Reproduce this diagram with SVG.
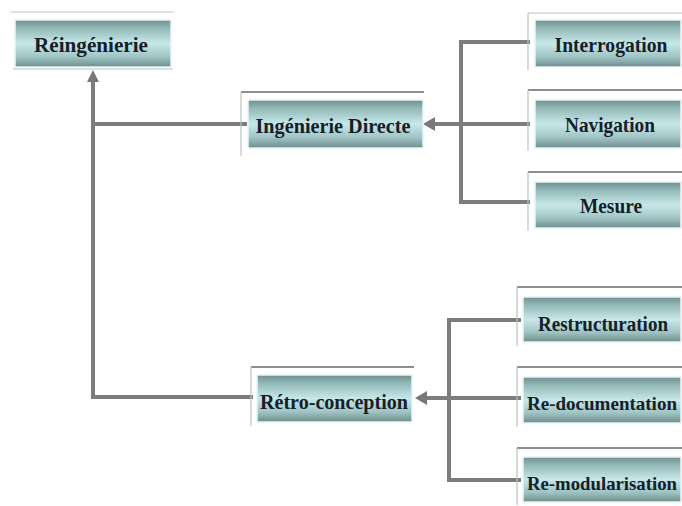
<svg xmlns="http://www.w3.org/2000/svg" width="682" height="506" viewBox="0 0 682 506">
  <style>
    .frame { fill: none; stroke: #b9c4c4; stroke-width: 1.2; }
    .cap { stroke: #8a8f90; stroke-width: 2; }
    .box { fill: url(#teal); stroke: #e6f6f6; stroke-width: 1.5; }
    .lbl { font-family: "Liberation Serif", "DejaVu Serif", serif; font-weight: bold; font-size: 22px; fill: #15202a; text-anchor: middle; }
    .sm { font-size: 20px; }
    .xs { font-size: 19px; }
    .wire { fill: none; stroke: #7d7d7d; stroke-width: 4; }
    .head { fill: #787878; }
  </style>
  <defs>
    <linearGradient id="teal" x1="0" y1="0" x2="0" y2="1">
      <stop offset="0" stop-color="#6f8f90"/>
      <stop offset="0.18" stop-color="#93b9b9"/>
      <stop offset="0.5" stop-color="#c8e8e8"/>
      <stop offset="0.78" stop-color="#a0c4c4"/>
      <stop offset="1" stop-color="#6e8c8d"/>
    </linearGradient>
  </defs>
  <rect width="682" height="506" fill="#ffffff"/>

  <!-- connectors -->
  <g id="connectors">
    <path class="wire" d="M530,42 H461 V202 H530"/>
    <path class="wire" d="M530,124 H432"/>
    <polygon class="head" points="423,124 435,117 435,131"/>
    <path class="wire" d="M521,320 H449 V480 H521"/>
    <path class="wire" d="M521,398 H424"/>
    <polygon class="head" points="415,398 427,391 427,405"/>
    <path class="wire" d="M247,124 H93"/>
    <path class="wire" d="M253,397 H93 V80"/>
    <polygon class="head" points="93,70 87,82 99,82"/>
  </g>

  <g id="reingenierie">
    <line class="frame" x1="11" y1="12" x2="173" y2="12"/>
    <rect class="box" x="15" y="20" width="156" height="47"/>
    <line class="frame" x1="13" y1="69" x2="173" y2="69"/>
    <text class="lbl" x="91" y="52" textLength="114" lengthAdjust="spacingAndGlyphs">Réingénierie</text>
  </g>

  <g id="ingenierie-directe">
    <line class="cap" x1="241" y1="92" x2="424" y2="92"/>
    <line class="frame" x1="241" y1="92" x2="241" y2="156"/>
    <rect class="box" x="248" y="100" width="175" height="48"/>
    <text class="lbl" x="333" y="133" textLength="155" lengthAdjust="spacingAndGlyphs">Ingénierie Directe</text>
  </g>

  <g id="retro-conception">
    <line class="cap" x1="251" y1="367" x2="414" y2="367"/>
    <line class="frame" x1="251" y1="367" x2="251" y2="426"/>
    <rect class="box" x="257" y="375" width="155" height="47"/>
    <text class="lbl" x="334" y="409" textLength="148" lengthAdjust="spacingAndGlyphs">Rétro-conception</text>
  </g>

  <g id="interrogation">
    <line class="frame" x1="528" y1="13" x2="682" y2="13"/>
    <line class="frame" x1="528" y1="13" x2="528" y2="70"/>
    <rect class="box" x="535" y="20" width="146" height="47"/>
    <text class="lbl" x="611" y="52" textLength="113" lengthAdjust="spacingAndGlyphs">Interrogation</text>
  </g>

  <g id="navigation">
    <line class="cap" x1="528" y1="90" x2="682" y2="90"/>
    <line class="frame" x1="528" y1="90" x2="528" y2="151"/>
    <rect class="box" x="535" y="100" width="146" height="48"/>
    <text class="lbl" x="610" y="132" textLength="90" lengthAdjust="spacingAndGlyphs">Navigation</text>
  </g>

  <g id="mesure">
    <line class="cap" x1="528" y1="172" x2="682" y2="172"/>
    <line class="frame" x1="528" y1="172" x2="528" y2="231"/>
    <rect class="box" x="535" y="182" width="146" height="46"/>
    <text class="lbl" x="611" y="213" textLength="62" lengthAdjust="spacingAndGlyphs">Mesure</text>
  </g>

  <g id="restructuration">
    <line class="cap" x1="517" y1="287" x2="682" y2="287"/>
    <line class="frame" x1="517" y1="287" x2="517" y2="346"/>
    <rect class="box" x="523" y="297" width="158" height="45"/>
    <text class="lbl sm" x="603" y="331" textLength="130" lengthAdjust="spacingAndGlyphs">Restructuration</text>
  </g>

  <g id="re-documentation">
    <line class="cap" x1="517" y1="367" x2="682" y2="367"/>
    <line class="frame" x1="517" y1="367" x2="517" y2="427"/>
    <rect class="box" x="523" y="377" width="158" height="46"/>
    <text class="lbl xs" x="602" y="410" textLength="150" lengthAdjust="spacingAndGlyphs">Re-documentation</text>
  </g>

  <g id="re-modularisation">
    <line class="cap" x1="517" y1="448" x2="682" y2="448"/>
    <line class="frame" x1="517" y1="448" x2="517" y2="505"/>
    <rect class="box" x="523" y="457" width="158" height="45"/>
    <text class="lbl xs" x="602" y="490" textLength="150" lengthAdjust="spacingAndGlyphs">Re-modularisation</text>
  </g>
</svg>
